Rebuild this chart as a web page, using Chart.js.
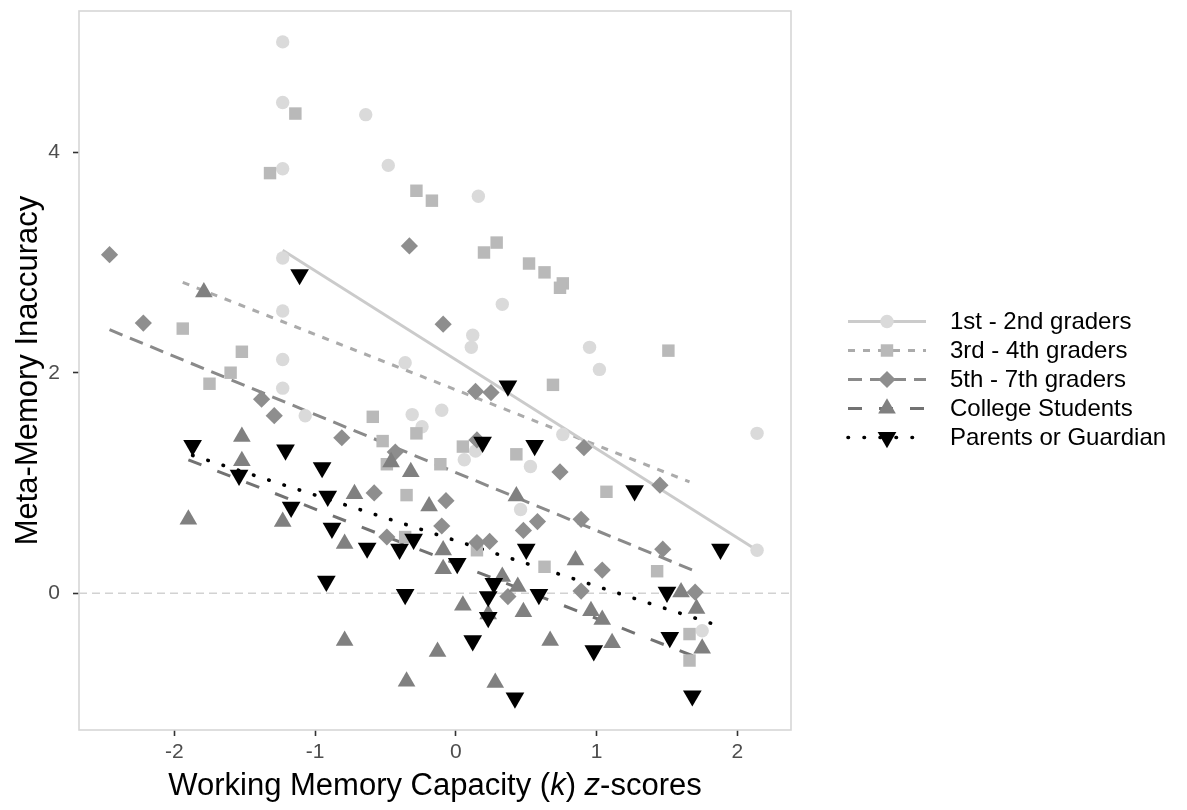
<!DOCTYPE html>
<html lang="en">
<head>
<meta charset="utf-8">
<title>Meta-Memory Inaccuracy</title>
<script src="https://cdn.jsdelivr.net/npm/chart.js@4.4.1/dist/chart.umd.min.js"></script>
<style>
  html, body { margin: 0; padding: 0; background: #fff; }
  #grafico { display: block; }
</style>
</head>
<body>
<canvas id="grafico" width="1187" height="810"></canvas>
<script>
// grupos (ordem da legenda)
const grupos = ["1st - 2nd graders", "3rd - 4th graders", "5th - 7th graders", "College Students", "Parents or Guardian"];

// 1st - 2nd graders
const g1X = [-1.23, -1.23, -1.23, -1.23, -1.23, -1.23, -1.23, -1.07, -0.64, -0.48, 0.16, 0.33, 0.12, 0.11, -0.36, -0.31, -0.10, -0.24, 0.06, 0.14, 0.53, 0.95, 1.02, 0.76, 2.14, 0.46, 2.14, 1.75];
const g1Y = [5.00, 4.45, 3.85, 3.04, 2.56, 2.12, 1.86, 1.61, 4.34, 3.88, 3.60, 2.62, 2.34, 2.23, 2.09, 1.62, 1.66, 1.51, 1.21, 1.29, 1.15, 2.23, 2.03, 1.44, 1.45, 0.76, 0.39, -0.34];

// 3rd - 4th graders
const g2X = [-1.14, -1.32, -0.28, -0.17, 0.29, 0.20, 0.52, 0.63, 0.76, 0.74, 1.51, 0.69, -0.59, -0.52, -0.28, -0.49, -0.11, 0.05, 0.43, -0.35, 1.07, -1.94, -1.52, -1.60, -1.75, 0.15, 0.63, 1.43, 1.66, 1.66, -0.36];
const g2Y = [4.35, 3.81, 3.65, 3.56, 3.18, 3.09, 2.99, 2.91, 2.81, 2.77, 2.20, 1.89, 1.60, 1.38, 1.45, 1.17, 1.17, 1.33, 1.26, 0.89, 0.92, 2.40, 2.19, 2.00, 1.90, 0.39, 0.24, 0.20, -0.37, -0.61, 0.51];

// 5th - 7th graders
const g3X = [-2.46, -2.22, -1.38, -1.29, -0.33, -0.09, 0.14, 0.25, -0.81, -0.43, 0.15, -0.58, -0.07, 0.91, 0.74, 1.45, -0.10, -0.49, 0.15, 0.24, 0.58, 0.48, 0.37, 0.89, 1.04, 0.89, 1.47, 1.70];
const g3Y = [3.07, 2.45, 1.76, 1.61, 3.15, 2.44, 1.83, 1.82, 1.41, 1.28, 1.39, 0.91, 0.84, 1.32, 1.10, 0.98, 0.61, 0.51, 0.46, 0.47, 0.65, 0.57, -0.03, 0.67, 0.21, 0.02, 0.40, 0.01];

// College Students
const g4X = [-1.79, -1.52, -1.52, -1.90, -1.23, -0.46, -0.32, -0.72, 0.43, -0.19, -0.79, -0.09, -0.09, 0.33, 0.44, 0.05, 0.48, 0.23, -0.79, -0.13, -0.35, 0.28, 0.67, 0.85, 0.96, 1.04, 1.11, 1.60, 1.71, 1.75];
const g4Y = [2.73, 1.42, 1.20, 0.67, 0.65, 1.19, 1.10, 0.90, 0.88, 0.79, 0.45, 0.39, 0.22, 0.15, 0.06, -0.11, -0.17, -0.19, -0.43, -0.53, -0.80, -0.81, -0.43, 0.30, -0.16, -0.24, -0.45, 0.01, -0.14, -0.50];

// Parents or Guardian
const g5X = [-1.11, -1.87, -1.21, -1.54, -0.95, 0.37, 0.19, 0.56, -1.17, -0.91, -0.88, -0.63, -0.40, -0.30, 0.01, 0.50, -0.92, -0.36, 0.27, 0.23, 0.23, 0.59, 0.12, 0.42, 1.27, 1.88, 1.50, 1.52, 0.98, 1.68];
const g5Y = [2.89, 1.34, 1.30, 1.07, 1.14, 1.88, 1.37, 1.34, 0.78, 0.88, 0.59, 0.41, 0.40, 0.49, 0.27, 0.40, 0.11, -0.01, 0.09, -0.03, -0.22, -0.01, -0.43, -0.95, 0.93, 0.40, 0.01, -0.40, -0.52, -0.93];

// retas de regressão de cada grupo (início e fim)
const retaX = [[-1.23, 2.14], [-1.94, 1.66], [-2.46, 1.70], [-1.90, 1.75], [-1.87, 1.88]];
const retaY = [[3.11, 0.39], [2.82, 1.01], [2.39, 0.20], [1.21, -0.60], [1.25, -0.30]];

// eixos
const ticksX = [-2, -1, 0, 1, 2];
const ticksY = [0, 2, 4];
const limX = [-2.677, 2.381];
const limY = [-1.24, 5.28];

const fonte = "'Liberation Sans', Arial, Helvetica, sans-serif";

const estilos = [
  { ponto: "circle",   raio: 6.7,  rot: 0,   cor: "#dadada", corLinha: "#cbcbcb", traco: [],       largura: 2.8 },
  { ponto: "rect",     raio: 8.8,  rot: 0,   cor: "#b9b9b9", corLinha: "#ababab", traco: [7, 8],   largura: 3 },
  { ponto: "rectRot",  raio: 8.6,  rot: 0,   cor: "#8e8e8e", corLinha: "#8a8a8a", traco: [14, 8],  largura: 3 },
  { ponto: "triangle", raio: 10.2, rot: 0,   cor: "#808080", corLinha: "#727272", traco: [14, 17], largura: 3 },
  { ponto: "triangle", raio: 10.8, rot: 180, cor: "#000000", corLinha: "#000000", traco: [0.5, 15.5], largura: 3.6 }
];

const pontosX = [g1X, g2X, g3X, g4X, g5X];
const pontosY = [g1Y, g2Y, g3Y, g4Y, g5Y];

function montarPontos(xs, ys) {
  return xs.map((x, i) => ({ x: x, y: ys[i] }));
}

const datasets = [];

// pontos: o último grupo fica por cima
grupos.forEach((nome, g) => {
  const e = estilos[g];
  datasets.push({
    label: nome,
    data: montarPontos(pontosX[g], pontosY[g]),
    pointStyle: e.ponto,
    pointRadius: e.raio,
    pointHoverRadius: e.raio,
    rotation: e.rot,
    pointBackgroundColor: e.cor,
    pointBorderWidth: 0,
    showLine: false,
    order: 4 - g
  });
});

// retas por baixo dos pontos
grupos.forEach((nome, g) => {
  const e = estilos[g];
  datasets.push({
    label: nome + " (reta)",
    data: montarPontos(retaX[g], retaY[g]),
    showLine: true,
    pointRadius: 0,
    borderColor: e.corLinha,
    borderWidth: e.largura,
    borderDash: e.traco,
    borderCapStyle: g === 4 ? "round" : "butt",
    fill: false,
    order: 10 + g
  });
});

// linha tracejada no zero e moldura do painel
const painelPlugin = {
  id: "painel",
  beforeDatasetsDraw(chart) {
    const { ctx, chartArea, scales } = chart;
    const y0 = scales.y.getPixelForValue(0);
    ctx.save();
    ctx.strokeStyle = "#d2d2d2";
    ctx.lineWidth = 1.5;
    ctx.setLineDash([8, 5]);
    ctx.beginPath();
    ctx.moveTo(chartArea.left, y0);
    ctx.lineTo(chartArea.right, y0);
    ctx.stroke();
    ctx.restore();
  },
  afterDatasetsDraw(chart) {
    const { ctx, chartArea } = chart;
    ctx.save();
    ctx.strokeStyle = "#d6d6d6";
    ctx.lineWidth = 1.6;
    ctx.strokeRect(chartArea.left, chartArea.top, chartArea.right - chartArea.left, chartArea.bottom - chartArea.top);
    ctx.restore();
  }
};

// título do eixo x com partes em itálico
const tituloXPlugin = {
  id: "tituloX",
  afterDraw(chart) {
    const { ctx, chartArea } = chart;
    const partes = [
      { t: "Working Memory Capacity (", it: false },
      { t: "k", it: true },
      { t: ") ", it: false },
      { t: "z", it: true },
      { t: "-scores", it: false }
    ];
    ctx.save();
    ctx.fillStyle = "#000";
    ctx.textBaseline = "middle";
    let total = 0;
    partes.forEach(p => {
      ctx.font = (p.it ? "italic " : "") + "31px " + fonte;
      p.w = ctx.measureText(p.t).width;
      total += p.w;
    });
    let x = (chartArea.left + chartArea.right) / 2 - total / 2;
    partes.forEach(p => {
      ctx.font = (p.it ? "italic " : "") + "31px " + fonte;
      ctx.fillText(p.t, x, 786);
      x += p.w;
    });
    ctx.restore();
  }
};

// legenda com amostra da linha e do marcador
const legendaPlugin = {
  id: "legendaLinhas",
  afterDraw(chart) {
    const { ctx } = chart;
    const x0 = 848, x1 = 926, xm = 887, xt = 950;
    ctx.save();
    grupos.forEach((nome, g) => {
      const e = estilos[g];
      const y = 321.5 + g * 29;
      ctx.strokeStyle = e.corLinha;
      ctx.lineWidth = e.largura;
      ctx.setLineDash(e.traco);
      ctx.lineCap = g === 4 ? "round" : "butt";
      ctx.beginPath();
      ctx.moveTo(x0, y);
      ctx.lineTo(x1, y);
      ctx.stroke();
      ctx.setLineDash([]);
      ctx.fillStyle = e.cor;
      Chart.helpers.drawPoint(ctx, { pointStyle: e.ponto, radius: e.raio, rotation: e.rot, borderWidth: 0 }, xm, y);
      ctx.fillStyle = "#000";
      ctx.font = "24px " + fonte;
      ctx.textBaseline = "middle";
      ctx.fillText(nome, xt, y + 1);
    });
    ctx.restore();
  }
};

const ctx = document.getElementById("grafico").getContext("2d");

new Chart(ctx, {
  type: "scatter",
  data: { datasets: datasets },
  options: {
    responsive: false,
    animation: false,
    devicePixelRatio: 1,
    events: [],
    layout: { padding: { top: 11, right: 396, bottom: 0, left: 0 } },
    plugins: {
      legend: { display: false },
      tooltip: { enabled: false }
    },
    scales: {
      x: {
        type: "linear",
        min: limX[0],
        max: limX[1],
        afterBuildTicks: (eixo) => { eixo.ticks = ticksX.map(v => ({ value: v })); },
        afterFit: (eixo) => { eixo.height = 80; eixo.paddingLeft = 0; eixo.paddingRight = 0; },
        grid: { drawOnChartArea: false, drawTicks: true, tickLength: 6, tickColor: "#333", tickWidth: 1.6 },
        border: { display: false },
        ticks: { font: { family: fonte, size: 21 }, color: "#4d4d4d", padding: 4, maxRotation: 0 }
      },
      y: {
        type: "linear",
        min: limY[0],
        max: limY[1],
        afterBuildTicks: (eixo) => { eixo.ticks = ticksY.map(v => ({ value: v })); },
        afterFit: (eixo) => { eixo.width = 79; eixo.paddingTop = 0; eixo.paddingBottom = 0; },
        grid: { drawOnChartArea: false, drawTicks: true, tickLength: 6, tickColor: "#333", tickWidth: 1.6 },
        border: { display: false },
        ticks: { font: { family: fonte, size: 21 }, color: "#4d4d4d", padding: 13 },
        title: {
          display: true,
          text: "Meta-Memory Inaccuracy",
          font: { family: fonte, size: 31 },
          color: "#000",
          padding: { top: 10, bottom: 0 }
        }
      }
    }
  },
  plugins: [painelPlugin, tituloXPlugin, legendaPlugin]
});
</script>
</body>
</html>
